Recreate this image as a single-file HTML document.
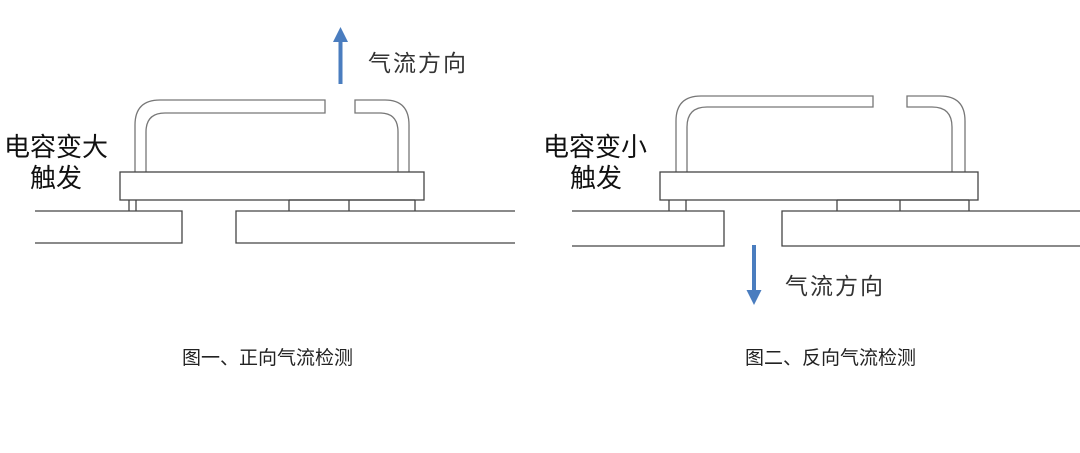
<!DOCTYPE html>
<html><head><meta charset="utf-8"><style>
html,body{margin:0;padding:0;background:#fff;}
body{width:1080px;height:453px;overflow:hidden;position:relative;font-family:"Liberation Sans","Noto Sans CJK SC",sans-serif;}
.t{position:absolute;white-space:nowrap;color:#222;}
</style></head><body>
<svg width="1080" height="453" style="position:absolute;left:0;top:0" fill="none" stroke-width="1.3">
<g stroke="#777">
<path d="M135,172 V125 Q135,100 160,100 H325 V113 H165 Q146,113 146,132 V172"/>
<path d="M398,172 V132 Q398,113 380,113 H355 V100 H385 Q409,100 409,125 V172"/>
</g>
<g stroke="#444">
<rect x="120" y="172" width="304" height="28"/>
<path d="M129,200 V211 M136,200 V211 M289,200 V211 M349,200 V211 M415,200 V211 M289,200 H415"/>
<path d="M35,211 H182 V243 H35"/>
<path d="M515,211 H236 V243 H515"/>
</g>
<g stroke="#777">
<path d="M676,172 V121 Q676,96 701,96 H873 V107 H707 Q687,107 687,127 V172"/>
<path d="M952,172 V127 Q952,107 932,107 H907 V96 H940 Q965,96 965,121 V172"/>
</g>
<g stroke="#444">
<rect x="660" y="172" width="318" height="28"/>
<path d="M669,200 V211 M686,200 V211 M837,200 V211 M900,200 V211 M969,200 V211 M837,200 H969"/>
<path d="M572,211 H724 V246 H572"/>
<path d="M1080,211 H782 V246 H1080"/>
</g>
<g fill="#4a7dbf" stroke="none">
<rect x="338.5" y="40" width="4" height="44"/>
<polygon points="340.5,27 333,42 348,42"/>
<rect x="752" y="245" width="4" height="47"/>
<polygon points="754,305 746.5,290 761.5,290"/>
</g>
</svg>
<div class="t" style="left:368px;top:44px;font-size:23px;color:#333;letter-spacing:2px">气流方向</div>
<div class="t" style="left:785px;top:267px;font-size:23px;color:#333;letter-spacing:2px">气流方向</div>
<div class="t" style="left:4px;top:132px;font-size:26px;line-height:30px;color:#111">电容变大</div>
<div class="t" style="left:30px;top:163px;font-size:26px;line-height:30px;color:#111">触发</div>
<div class="t" style="left:543px;top:132px;font-size:26px;line-height:30px;color:#111">电容变小</div>
<div class="t" style="left:570px;top:163px;font-size:26px;line-height:30px;color:#111">触发</div>
<div class="t" style="left:182px;top:343px;font-size:19px;color:#222">图一、正向气流检测</div>
<div class="t" style="left:745px;top:343px;font-size:19px;color:#222">图二、反向气流检测</div>
</body></html>
